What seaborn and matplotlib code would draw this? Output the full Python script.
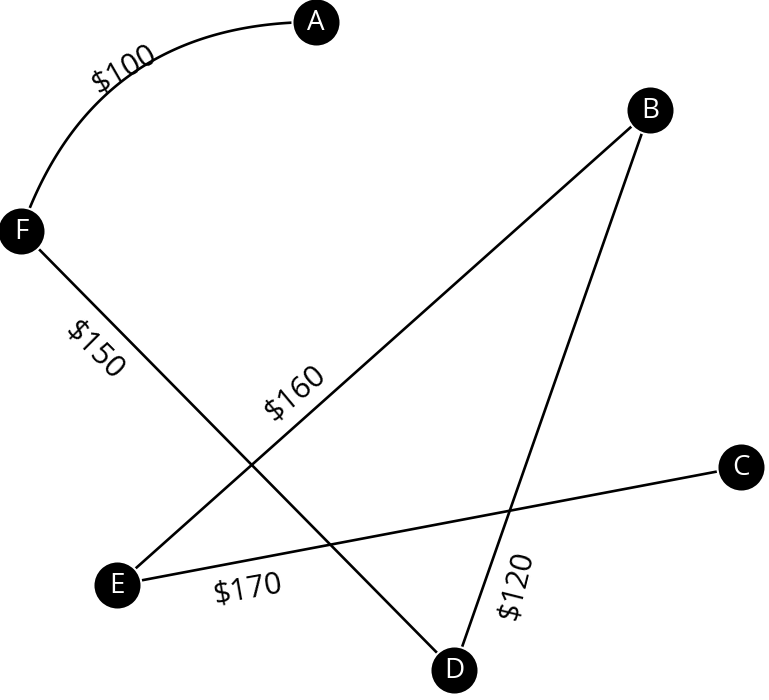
import numpy as np
import matplotlib
matplotlib.use("Agg")
import matplotlib.pyplot as plt
import seaborn as sns

sns.set_style("white")
plt.rcParams['font.family'] = ['Open Sans', 'DejaVu Sans']

nodes = ["A", "B", "C", "D", "E", "F"]
node_x = [316, 650, 741, 454, 117, 21]
node_y = [22, 110, 467, 670, 585, 231]
edge_src = ["F", "F", "E", "E", "B"]
edge_dst = ["A", "D", "B", "C", "D"]
edge_cost = ["$100", "$150", "$160", "$170", "$120"]
label_x = [124, 94, 295, 248, 516]
label_y = [70, 350, 394, 590, 586]
label_rot = [30, -45, 40, 10, 76]

pos = {n: (x, y) for n, x, y in zip(nodes, node_x, node_y)}

fig = plt.figure(figsize=(7.69, 7.0), dpi=100)
ax = fig.add_axes([0, 0, 1, 1])
ax.set_xlim(0, 769)
ax.set_ylim(700, 0)
ax.axis("off")

for s, d in zip(edge_src, edge_dst):
    x0, y0 = pos[s]; x1, y1 = pos[d]
    if (s, d) == ("F", "A"):
        cx, cy = 94, 22
        t = np.linspace(0, 1, 100)
        xs = (1-t)**2*x0 + 2*(1-t)*t*cx + t**2*x1
        ys = (1-t)**2*y0 + 2*(1-t)*t*cy + t**2*y1
        ax.plot(xs, ys, color="black", lw=1.9, zorder=1)
    else:
        ax.plot([x0, x1], [y0, y1], color="black", lw=1.9, zorder=1)

for lbl, x, y, r in zip(edge_cost, label_x, label_y, label_rot):
    ax.text(x, y, lbl, rotation=r, ha="center", va="center", fontsize=22,
            color="black", rotation_mode="anchor")

sns.scatterplot(x=node_x, y=node_y, s=1200, color="black", edgecolor="white",
                linewidth=1.5, ax=ax, zorder=3, legend=False)
for n, x, y in zip(nodes, node_x, node_y):
    ax.text(x, y + 1, n, color="white", ha="center", va="center", fontsize=20, zorder=4)

fig.savefig("out.png", dpi=100)
